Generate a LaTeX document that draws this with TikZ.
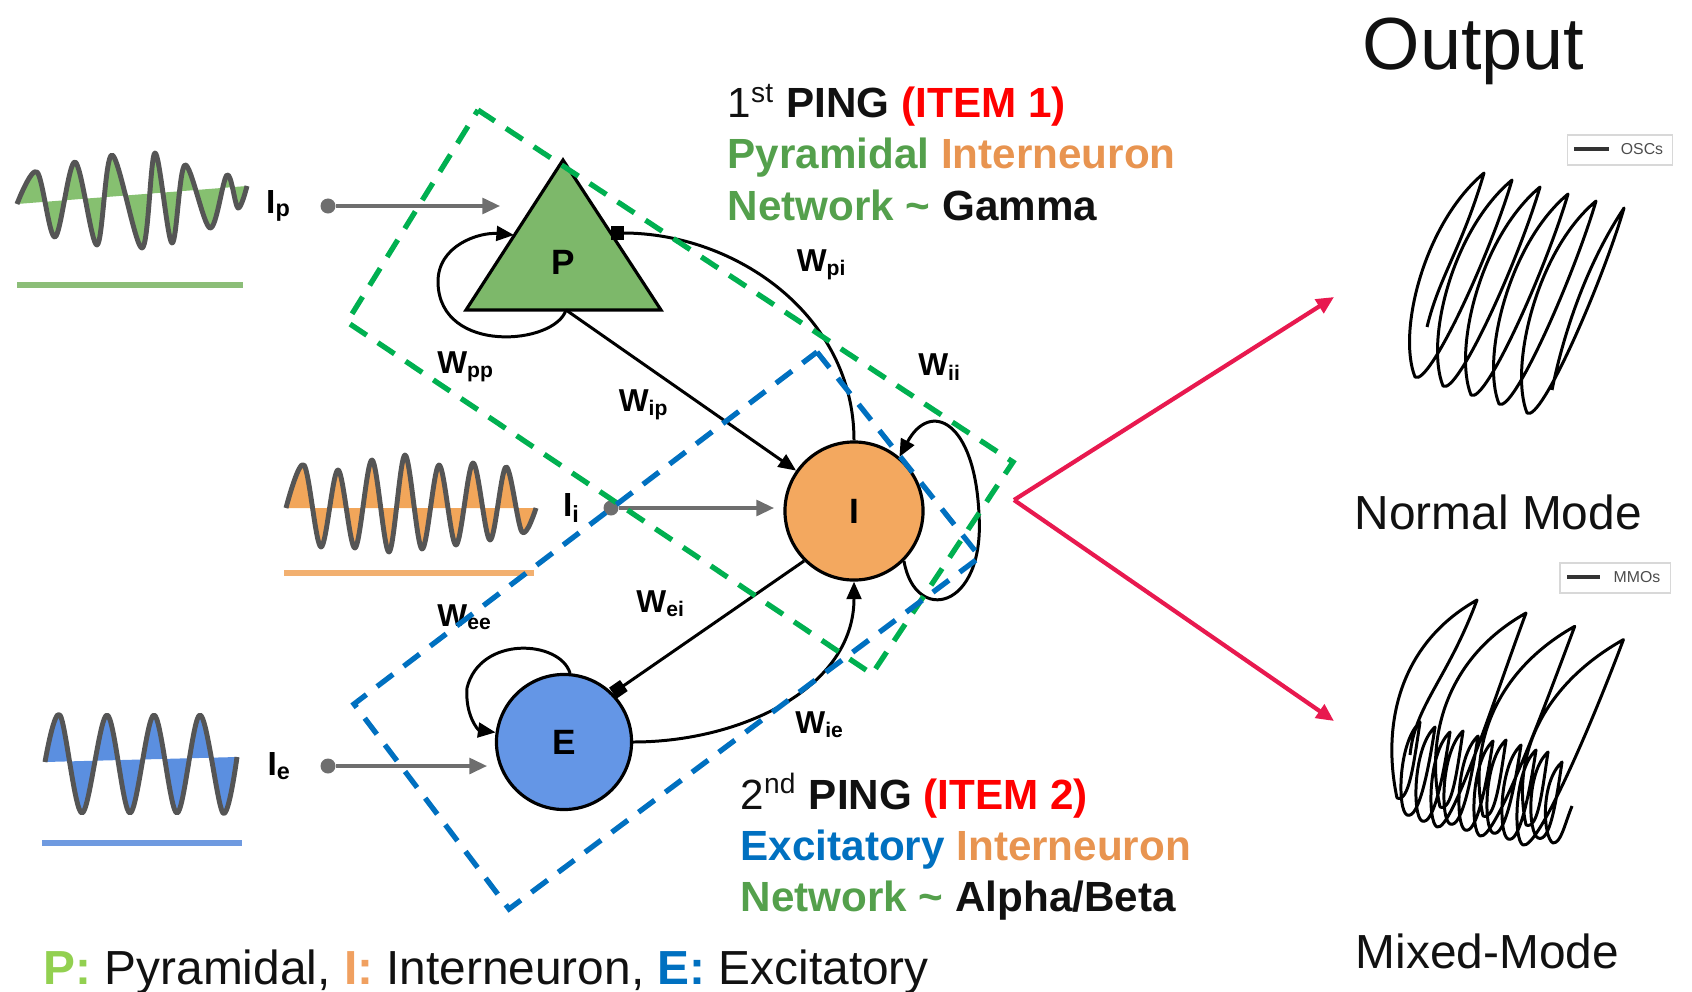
\documentclass[tikz,border=0pt]{standalone}
\usepackage{fontspec}
\setmainfont{Liberation Sans}
\usetikzlibrary{positioning, arrows.meta, calc}
\usepackage{xcolor}
\definecolor{pyrgreen}{HTML}{7DB86A}
\definecolor{intorange}{HTML}{F3A85F}
\definecolor{excblue}{HTML}{6496E6}
\definecolor{txtgreen}{HTML}{54A04C}
\definecolor{txtorange}{HTML}{E89450}
\definecolor{txtblue}{HTML}{0070C0}
\definecolor{txtblack}{HTML}{111111}
\definecolor{keygreen}{HTML}{92D050}
\definecolor{keyorange}{HTML}{F0A060}
\definecolor{boxgreen}{HTML}{00B050}
\definecolor{boxblue}{HTML}{0070C0}
\definecolor{outred}{HTML}{E8194F}
\definecolor{drivegray}{HTML}{6E6E6E}
\definecolor{wavegray}{HTML}{555555}
\definecolor{wavegreen}{HTML}{86C070}
\definecolor{waveorange}{HTML}{F2A65A}
\definecolor{waveblue}{HTML}{5B8FE0}
\definecolor{linegreen}{HTML}{8CBE78}
\definecolor{lineorange}{HTML}{F2B070}
\definecolor{lineblue}{HTML}{6F9AE0}
\definecolor{legendgray}{HTML}{D8D8D8}

\begin{document}
\begin{tikzpicture}[x=0.01cm, y=-0.01cm,
  cell/.style={circle, draw, line width=0.9pt, inner sep=0pt, minimum size=1.38cm, font=\fontsize{10}{12}\selectfont\bfseries},
  wlab/.style={font=\fontsize{9}{10}\selectfont\bfseries, inner sep=1pt},
  ilab/.style={font=\fontsize{9.5}{11}\selectfont\bfseries, inner sep=1pt},
  src/.style={circle, fill=drivegray, inner sep=0pt, minimum size=0.15cm},
  drive/.style={line width=0.9pt, drivegray, -{Triangle[length=5pt,width=4.5pt]}},
  excit/.style={line width=0.85pt, -{Triangle[length=5pt,width=4.2pt]}},
  inhib/.style={line width=0.85pt, -{Square[length=3.8pt,width=3.8pt]}},
  wave/.style={line width=1.4pt, wavegray, line join=round},
  refline/.style={line width=1.7pt},
  netbox/.style={line width=1.5pt, dash pattern=on 5.7pt off 3.8pt},
  outarrow/.style={line width=1.2pt, outred, -{Triangle[length=5pt,width=4.5pt]}},
  traj/.style={line width=0.85pt, line join=round},
  ping/.style={anchor=base west, inner sep=0pt, text=txtblack, font=\fontsize{12}{14}\selectfont\bfseries},
  title/.style={anchor=base west, inner sep=0pt, text=txtblack, font=\fontsize{13.6}{16}\selectfont}]
\useasboundingbox (0,0) rectangle (1692,991);

\fill[wavegreen] plot[smooth, tension=0.55] coordinates {(17,204) (37,172) (55,237) (75,162) (97,245) (112,155) (142,248) (155,153) (172,243) (185,165) (210,228) (227,175) (238,208) (247,186)} -- cycle;
\draw[wave] plot[smooth, tension=0.55] coordinates {(17,204) (37,172) (55,237) (75,162) (97,245) (112,155) (142,248) (155,153) (172,243) (185,165) (210,228) (227,175) (238,208) (247,186)};
\draw[refline, linegreen] (17,285) -- (243,285);
\fill[waveorange] plot[smooth, tension=0.55] coordinates {(286,508) (304,465) (321,547) (338,470) (355,548) (372,460) (389,552) (405,455) (422,549) (439,465) (456,545) (473,463) (490,540) (506,467) (522,532) (536,508)} -- cycle;
\draw[wave] plot[smooth, tension=0.55] coordinates {(286,508) (304,465) (321,547) (338,470) (355,548) (372,460) (389,552) (405,455) (422,549) (439,465) (456,545) (473,463) (490,540) (506,467) (522,532) (536,508)};
\draw[refline, lineorange] (284,573) -- (534,573);
\fill[waveblue] plot[smooth, tension=0.55] coordinates {(45,762) (60,715) (82,813) (107,715) (130,813) (154,715) (177,813) (200,715) (223,813) (237,757)} -- cycle;
\draw[wave] plot[smooth, tension=0.55] coordinates {(45,762) (60,715) (82,813) (107,715) (130,813) (154,715) (177,813) (200,715) (223,813) (237,757)};
\draw[refline, lineblue] (42,843) -- (242,843);

\filldraw[fill=pyrgreen, line width=0.9pt, line join=miter] (563,160) -- (661,310) -- (466,310) -- cycle;
\node[font=\fontsize{10}{12}\selectfont\bfseries] (P) at (563,262) {P};
\coordinate (Pbase) at (566,310);
\coordinate (Pleft) at (514,235);
\coordinate (Pright) at (611,233);
\node[cell, fill=intorange] (I) at (854,511) {I};
\node[cell, fill=excblue, minimum size=1.35cm] (E) at (564,742) {E};

\node[src] (srcp) at (328,206) {};
\coordinate (tipp) at (500,206);
\node[ilab, left=0.24cm of srcp] (lblp) {I\textsubscript{p}};
\node[src] (srci) at (611,508) {};
\coordinate (tipi) at (774,508);
\node[ilab, left=0.18cm of srci] (lbli) {I\textsubscript{i}};
\node[src] (srce) at (328,766) {};
\coordinate (tipe) at (487,766);
\node[ilab, left=0.24cm of srce] (lble) {I\textsubscript{e}};
\draw[drive] (srcp) -- (tipp);
\draw[drive] (srci) -- (tipi);
\draw[drive] (srce) -- (tipe);

\draw[excit] (Pbase) -- (I);
\draw[inhib] (I.north) to[out=90, in=0] (Pright);
\draw[excit] (Pbase) .. controls (555,345) and (440,355) .. (438,283) .. controls (437,245) and (480,232) .. (Pleft);
\draw[excit] (I.-45) .. controls (915,625) and (985,610) .. (979,515) .. controls (975,420) and (930,400) .. (I.50);
\draw[inhib] (I.225) -- (E.45);
\draw[excit] (E.east) to[out=0, in=-90] (I.south);
\draw[excit] (E.85) .. controls (560,640) and (480,635) .. (467,688) .. controls (465,715) and (478,730) .. (E.172);

\node[wlab] (wpp) at (466,367) {W\textsubscript{pp}};
\node[wlab] (wpi) at (822,265) {W\textsubscript{pi}};
\node[wlab] (wip) at (644,405) {W\textsubscript{ip}};
\node[wlab] (wii) at (940,367) {W\textsubscript{ii}};
\node[wlab] (wei) at (661,604) {W\textsubscript{ei}};
\node[wlab] (wee) at (465,617) {W\textsubscript{ee}};
\node[wlab] (wie) at (820,725) {W\textsubscript{ie}};

\draw[netbox, boxgreen] (478,110) -- (1013,462) -- (872,674) -- (347,322) -- cycle;
\draw[netbox, boxblue] (817,352) -- (980,557) -- (509,909) -- (354,704) -- cycle;

\node[ping] (ping1) at (727,118) {{\mdseries 1\textsuperscript{st}} PING \textcolor{red}{(ITEM 1)}};
\node[ping] (pyr1) at (727,169) {\textcolor{txtgreen}{Pyramidal} \textcolor{txtorange}{Interneuron}};
\node[ping] (net1) at (727,220) {\textcolor{txtgreen}{Network \textasciitilde} Gamma};
\node[ping] (ping2) at (740,809) {{\mdseries 2\textsuperscript{nd}} PING \textcolor{red}{(ITEM 2)}};
\node[ping] (exc2) at (740,860) {\textcolor{txtblue}{Excitatory} \textcolor{txtorange}{Interneuron}};
\node[ping] (net2) at (740,911) {\textcolor{txtgreen}{Network \textasciitilde} Alpha/Beta};
\node[title] (key) at (43,984) {\textcolor{keygreen}{\bfseries P:} Pyramidal, \textcolor{keyorange}{\bfseries I:} Interneuron, \textcolor{txtblue}{\bfseries E:} Excitatory};

\coordinate (fork) at (1014,500);
\coordinate (toosc) at (1334,297);
\coordinate (tommo) at (1334,721);
\draw[outarrow] (fork) -- (toosc);
\draw[outarrow] (fork) -- (tommo);

\node[title, font=\fontsize{21}{24}\selectfont] (output) at (1362,70) {Output};
\node[title] (normal) at (1354,529) {Normal Mode};
\node[title] (mixed) at (1355,968) {Mixed-Mode};

\node[draw=legendgray, line width=0.3pt, minimum width=1.05cm, minimum height=0.3cm, inner sep=0pt] (osckey) at (1620,150) {};
\draw[line width=1pt, black!80] (1574,149) -- (1609,149);
\node[font=\fontsize{4.5}{5}\selectfont, text=black!70] (osctext) at (1642,149) {OSCs};
\draw[traj] (1427,327) .. controls +(12,-50) and +(-22,75) .. (1484,173)
  \foreach \k in {0,...,4} { .. controls +(-60,50) and +(-18,-45) .. ({1415+28*\k},{377+9*\k}) .. controls +(14,10) and +(-22,75) .. ({1512+28*\k},{180+7*\k}) }
  .. controls +(-40,60) and +(10,-50) .. (1552,390);

\node[draw=legendgray, line width=0.3pt, minimum width=1.1cm, minimum height=0.3cm, inner sep=0pt] (mmokey) at (1615,578) {};
\draw[line width=1pt, black!80] (1567,577) -- (1600,577);
\node[font=\fontsize{4.5}{5}\selectfont, text=black!70] (mmotext) at (1637,577) {MMOs};
\draw[traj] (1410,755) .. controls +(5,-50) and +(-30,80) .. (1477,600)
  \foreach \k in {0,1,2} { .. controls +(-80,45) and +(-15,-70) .. ({1397+43*\k},{798+9*\k})
    \foreach \j in {0,1,2} { .. controls +(12,5) and +(-6,40) .. ({1420+43*\k+15*\j},{722+9*\k+5*\j}) .. controls +(-22,20) and +(-10,-5) .. ({1407+43*\k+15*\j},{815+9*\k+6*\j}) }
    .. controls +(15,5) and +(-30,80) .. ({1526+48.7*\k},{613+13.3*\k}) }
  .. controls +(-80,45) and +(-15,-70) .. (1526,825)
  .. controls +(12,5) and +(-6,40) .. (1548,752) .. controls +(-22,20) and +(-10,-5) .. (1538,838)
  .. controls +(12,5) and +(-6,40) .. (1562,762) .. controls +(-22,20) and +(-10,-5) .. (1553,843)
  .. controls +(8,0) and +(-8,20) .. (1572,806);
\end{tikzpicture}
\end{document}
